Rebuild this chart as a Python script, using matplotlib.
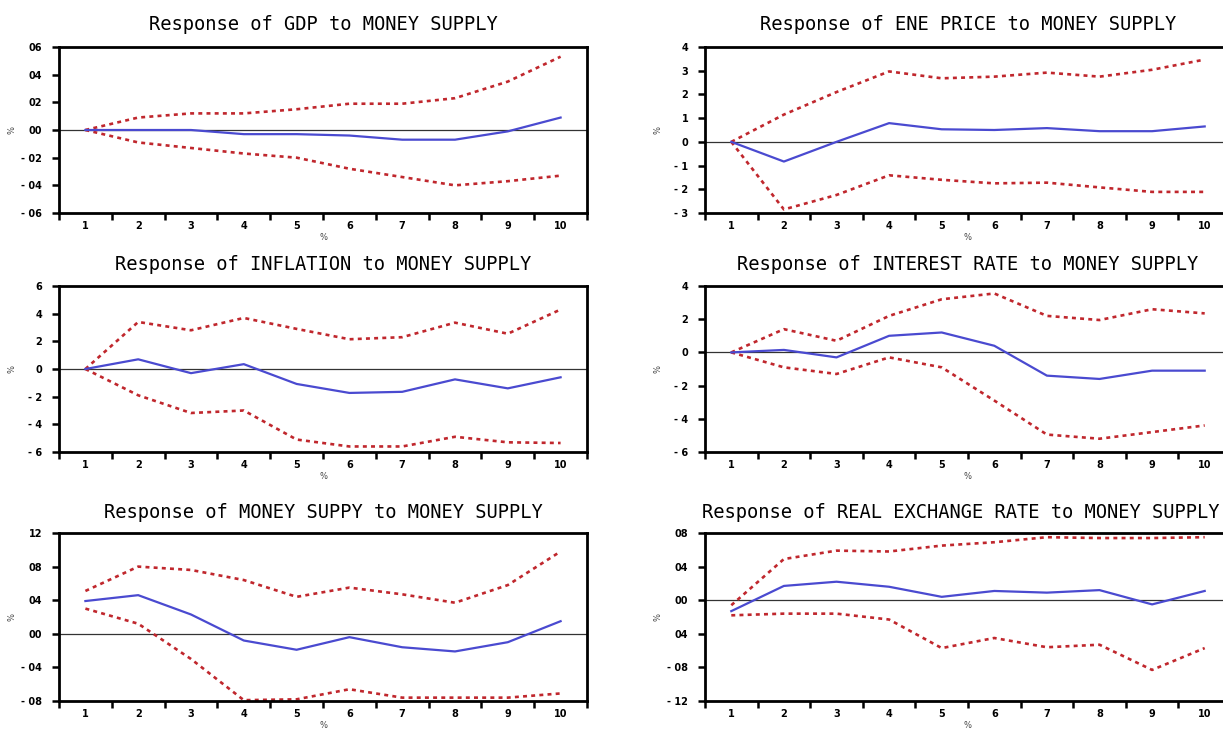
import matplotlib
matplotlib.use("Agg")
import matplotlib.pyplot as plt
import numpy as np

periods = [1, 2, 3, 4, 5, 6, 7, 8, 9, 10]

titles = [
    "Response of GDP to MONEY SUPPLY",
    "Response of ENE PRICE to MONEY SUPPLY",
    "Response of INFLATION to MONEY SUPPLY",
    "Response of INTEREST RATE to MONEY SUPPLY",
    "Response of MONEY SUPPY to MONEY SUPPLY",
    "Response of REAL EXCHANGE RATE to MONEY SUPPLY",
]

# GDP
gdp_resp = [0.0, 0.0, 0.0, -0.003, -0.003, -0.004, -0.007, -0.007, -0.001, 0.009]
gdp_up = [0.0, 0.009, 0.012, 0.012, 0.015, 0.019, 0.019, 0.023, 0.035, 0.053]
gdp_lo = [0.0, -0.009, -0.013, -0.017, -0.020, -0.028, -0.034, -0.040, -0.037, -0.033]
gdp_ticks = [0.06, 0.04, 0.02, 0.0, -0.02, -0.04, -0.06]
gdp_labels = ["06", "04", "02", "00", "- 02", "- 04", "- 06"]

# ENE PRICE
ene_resp = [0.0, -0.83, 0.0, 0.79, 0.53, 0.50, 0.58, 0.45, 0.45, 0.65]
ene_up = [0.0, 1.15, 2.10, 2.97, 2.68, 2.75, 2.92, 2.75, 3.04, 3.47]
ene_lo = [0.0, -2.85, -2.24, -1.41, -1.60, -1.75, -1.72, -1.92, -2.11, -2.11]
ene_ticks = [4, 3, 2, 1, 0, -1, -2, -3]
ene_labels = ["4", "3", "2", "1", "0", "- 1", "- 2", "- 3"]

# INFLATION
inf_resp = [0.0, 0.70, -0.30, 0.35, -1.08, -1.73, -1.65, -0.75, -1.40, -0.60]
inf_up = [0.0, 3.40, 2.80, 3.69, 2.90, 2.15, 2.30, 3.35, 2.55, 4.30]
inf_lo = [0.0, -1.90, -3.18, -3.00, -5.10, -5.60, -5.60, -4.90, -5.30, -5.35]
inf_ticks = [6, 4, 2, 0, -2, -4, -6]
inf_labels = ["6", "4", "2", "0", "- 2", "- 4", "- 6"]

# INTEREST RATE
int_resp = [0.0, 0.15, -0.30, 1.00, 1.20, 0.40, -1.40, -1.60, -1.10, -1.10]
int_up = [0.0, 1.40, 0.70, 2.20, 3.20, 3.55, 2.20, 1.95, 2.60, 2.35]
int_lo = [0.0, -0.90, -1.30, -0.30, -0.90, -2.90, -4.95, -5.20, -4.80, -4.40]
int_ticks = [4, 2, 0, -2, -4, -6]
int_labels = ["4", "2", "0", "- 2", "- 4", "- 6"]

# MONEY SUPPLY
ms_resp = [0.039, 0.046, 0.023, -0.008, -0.019, -0.004, -0.016, -0.021, -0.010, 0.015]
ms_up = [0.051, 0.080, 0.076, 0.064, 0.044, 0.055, 0.047, 0.037, 0.058, 0.098]
ms_lo = [0.030, 0.012, -0.030, -0.079, -0.078, -0.066, -0.076, -0.076, -0.076, -0.071]
ms_ticks = [0.12, 0.08, 0.04, 0.0, -0.04, -0.08]
ms_labels = ["12", "08", "04", "00", "- 04", "- 08"]

# REAL EXCHANGE RATE
rer_resp = [-0.013, 0.017, 0.022, 0.016, 0.004, 0.011, 0.009, 0.012, -0.005, 0.011]
rer_up = [-0.006, 0.049, 0.059, 0.058, 0.065, 0.069, 0.075, 0.074, 0.074, 0.075]
rer_lo = [-0.018, -0.016, -0.016, -0.023, -0.057, -0.045, -0.056, -0.053, -0.083, -0.057]
rer_ticks = [0.08, 0.04, 0.0, -0.04, -0.08, -0.12]
rer_labels = ["08", "04", "00", "04", "- 08", "- 12"]

panels = [
    (gdp_resp, gdp_up, gdp_lo, gdp_ticks, gdp_labels),
    (ene_resp, ene_up, ene_lo, ene_ticks, ene_labels),
    (inf_resp, inf_up, inf_lo, inf_ticks, inf_labels),
    (int_resp, int_up, int_lo, int_ticks, int_labels),
    (ms_resp, ms_up, ms_lo, ms_ticks, ms_labels),
    (rer_resp, rer_up, rer_lo, rer_ticks, rer_labels),
]

W, H = 1223, 731
fig = plt.figure(figsize=(W / 100, H / 100), dpi=100)

# pixel boxes: (left, top, right, bottom)
col_x = [(59, 587), (705, 1231)]
row_y = [(47, 213), (286, 452), (533, 701)]
title_y = [25, 264, 512]

tick_font = {"family": ["Liberation Sans Narrow", "DejaVu Sans"], "weight": "bold", "size": 7}

blue = "#4a4ad0"
red = "#c0272d"

for i, (resp, up, lo, yt, yl) in enumerate(panels):
    r, c = divmod(i, 2)
    x0, x1 = col_x[c]
    y0, y1 = row_y[r]
    ax = fig.add_axes([x0 / W, 1 - y1 / H, (x1 - x0) / W, (y1 - y0) / H])
    ax.set_xlim(0.5, 10.5)
    ax.set_ylim(min(yt), max(yt))
    ax.axhline(0, color="#333333", lw=0.9, zorder=1)
    ax.plot(periods, up, color=red, lw=1.9, dashes=(1.5, 1.6), zorder=2)
    ax.plot(periods, lo, color=red, lw=1.9, dashes=(1.5, 1.6), zorder=2)
    ax.plot(periods, resp, color=blue, lw=1.6, zorder=3)

    ax.set_yticks(yt)
    ax.set_yticklabels(yl, fontdict=tick_font)
    ax.set_xticks(periods)
    ax.set_xticklabels([str(p) for p in periods], fontdict=tick_font)
    ax.set_xticks(np.arange(0.5, 11.0, 1.0), minor=True)
    ax.tick_params(axis="x", which="major", length=0, pad=6)
    ax.tick_params(axis="x", which="minor", length=5, width=1.8, direction="out")
    ax.tick_params(axis="y", which="major", length=5, width=1.8, direction="out", pad=7)
    for s in ax.spines.values():
        s.set_linewidth(2.0)
        s.set_color("black")

    ax.set_ylabel("%", fontsize=6, color="#444444")
    ax.yaxis.set_label_coords(-0.08, 0.5)
    ax.set_xlabel("%", fontsize=6, color="#444444", labelpad=1)

    tx = (x0 + x1) / 2
    if i == 5:
        tx = 961
    fig.text(tx / W, 1 - title_y[r] / H, titles[i],
             ha="center", va="center", fontsize=13.5, family="DejaVu Sans Mono")

fig.savefig("out.png", dpi=100)
